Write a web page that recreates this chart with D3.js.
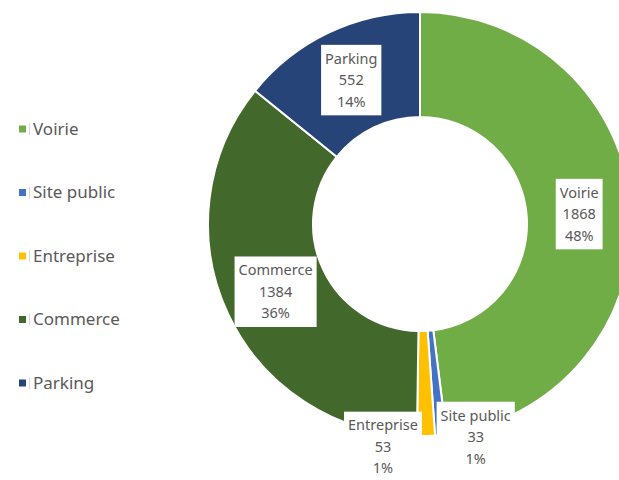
<!DOCTYPE html>
<html><head><meta charset="utf-8">
<script src="https://cdn.jsdelivr.net/npm/d3@7"></script>
<style>
html,body{margin:0;padding:0;background:#fff;}
svg{display:block;font-family:"Noto Sans","Open Sans",sans-serif;}
</style></head>
<body>
<script>
const categories = ["Voirie", "Site public", "Entreprise", "Commerce", "Parking"];
const values = [1868, 33, 53, 1384, 552];
const percentLabels = ["48%", "1%", "1%", "36%", "14%"];
const colors = ["#70AD47", "#4472C4", "#FFC000", "#43682B", "#264478"];
// label placement: "in" = arc centroid, "out" = outer edge with nudge
const labelModes = ["in", "out", "out", "in", "in"];
const labelNudge = [[0,0],[35,2],[-43,11],[0,0],[0,0]];

const W = 619, H = 480;
const cx = 420, cy = 224, rOuter = 212, rInner = 107;

const svg = d3.select("body").append("svg").attr("width", W).attr("height", H);

const pie = d3.pie().sort(null).value(d => d.v);
const data = categories.map((c,i) => ({c, v: values[i], p: percentLabels[i], col: colors[i], i}));
const arcs = pie(data);
const arc = d3.arc().innerRadius(rInner).outerRadius(rOuter);
const arcOut = d3.arc().innerRadius(rOuter).outerRadius(rOuter);

const g = svg.append("g").attr("transform", `translate(${cx},${cy})`);
g.selectAll("path").data(arcs).join("path")
  .attr("d", arc)
  .attr("fill", d => d.data.col)
  .attr("stroke", "#fff")
  .attr("stroke-width", 2);

// labels
const lineH = 21.5;
arcs.forEach(d => {
  const i = d.data.i;
  let [x, y] = labelModes[i] === "in" ? arc.centroid(d) : arcOut.centroid(d);
  x += labelNudge[i][0]; y += labelNudge[i][1];
  const lg = g.append("g").attr("transform", `translate(${x},${y})`);
  const rect = lg.append("rect").attr("fill", "#fff");
  const t = lg.append("text").attr("text-anchor", "middle")
    .attr("fill", "#595959").attr("font-size", 14.5);
  const lines = [d.data.c, d3.format("d")(d.data.v), d.data.p];
  lines.forEach((s, k) => {
    t.append("tspan").attr("x", 0).attr("y", (k - 1) * lineH).attr("dy", "0.35em").text(s);
  });
  const bb = t.node().getBBox();
  const padX = 4;
  const hBox = 3 * lineH + 6;
  rect.attr("x", bb.x - padX).attr("width", bb.width + 2 * padX)
      .attr("y", -hBox / 2).attr("height", hBox);
});

// legend
const legendY = d3.scalePoint().domain(categories).range([129, 383]);
const leg = svg.append("g");
categories.forEach((c, i) => {
  const y = legendY(c);
  leg.append("rect").attr("x", 19).attr("y", y - 3.5).attr("width", 7).attr("height", 7).attr("fill", colors[i]);
  leg.append("line").attr("x1", 29.5).attr("x2", 29.5).attr("y1", y - 6).attr("y2", y + 6)
     .attr("stroke", "#d9d9d9").attr("stroke-width", 1);
  leg.append("text").attr("x", 33).attr("y", y).attr("dy", "0.35em")
     .attr("fill", "#595959").attr("font-size", 17).text(c);
});
</script>
</body></html>
